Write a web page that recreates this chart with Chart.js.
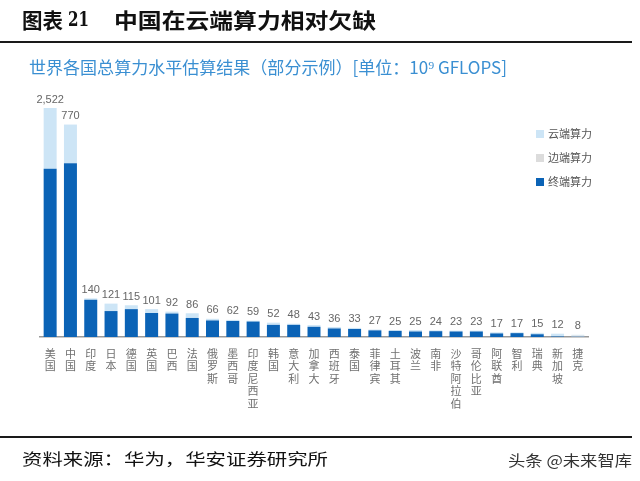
<!DOCTYPE html>
<html>
<head>
<meta charset="utf-8">
<script src="https://cdn.jsdelivr.net/npm/chart.js@4.4.0/dist/chart.umd.min.js"></script>
<style>
  html, body { margin: 0; padding: 0; background: #fff; }
  #wrap { position: relative; width: 640px; height: 481px; }
</style>
</head>
<body>
<div id="wrap"><canvas id="chart" width="640" height="481"></canvas></div>
<script>
// 世界各国总算力水平估算 (10^9 GFLOPS)
const countries = ['美国', '中国', '印度', '日本', '德国', '英国', '巴西', '法国', '俄罗斯', '墨西哥',
  '印度尼西亚', '韩国', '意大利', '加拿大', '西班牙', '泰国', '菲律宾', '土耳其', '波兰', '南非',
  '沙特阿拉伯', '哥伦比亚', '阿联酋', '智利', '瑞典', '新加坡', '捷克'];
const terminalPower = [610, 630, 135, 94, 101, 87, 85, 69, 60, 58, 56, 44, 44, 37, 31, 29, 24, 22, 20, 21, 20, 20, 13, 14, 10, 2, 1];
const edgePower     = [0, 0, 0, 0, 0, 0, 0, 0, 0, 0, 0, 0, 0, 0, 0, 0, 0, 0, 0, 0, 0, 0, 0, 0, 0, 1, 4];
const cloudPower    = [1912, 140, 5, 27, 14, 14, 7, 17, 6, 4, 3, 8, 4, 6, 5, 4, 3, 3, 5, 3, 3, 3, 4, 3, 5, 9, 3];
const seriesNames = ['终端算力', '边端算力', '云端算力'];
const seriesColors = ['#0b63b6', '#dcdcdc', '#cde5f6'];
const yMax = 830; // broken axis: the US bar runs off the top

const totals = countries.map((c, i) => terminalPower[i] + edgePower[i] + cloudPower[i]);

function fitText(ctx, text, x, y, w) {
  const m = ctx.measureText(text).width;
  ctx.save();
  ctx.translate(x, y);
  ctx.scale(w / m, 1);
  ctx.fillText(text, 0, 0);
  ctx.restore();
}

const framePlugin = {
  id: 'frame',
  beforeDraw(chart) {
    const ctx = chart.ctx;
    ctx.save();
    ctx.fillStyle = '#fff';
    ctx.fillRect(0, 0, chart.width, chart.height);
    // title
    ctx.fillStyle = '#111';
    ctx.textBaseline = 'middle';
    ctx.font = 'bold 21px "Noto Sans CJK SC"';
    fitText(ctx, '图表', 22, 20, 41);
    ctx.font = 'bold 21px "DejaVu Serif"';
    fitText(ctx, '21', 68, 21, 21);
    ctx.font = 'bold 21px "Noto Sans CJK SC"';
    fitText(ctx, '中国在云端算力相对欠缺', 114, 20, 262);
    ctx.fillStyle = '#1a1a1a';
    ctx.fillRect(0, 41, 632, 2);
    // subtitle
    ctx.fillStyle = '#3a8fd2';
    ctx.font = '17px "Noto Sans CJK SC"';
    fitText(ctx, '世界各国总算力水平估算结果（部分示例）[单位：10⁹ GFLOPS]', 29, 68, 478);
    // footer
    ctx.fillStyle = '#1a1a1a';
    ctx.fillRect(0, 436, 632, 2);
    ctx.fillStyle = '#111';
    ctx.font = '16px "Noto Sans CJK SC"';
    fitText(ctx, '资料来源：华为，华安证券研究所', 22, 459, 306);
    ctx.fillStyle = '#333';
    ctx.font = '15px "Noto Sans CJK SC"';
    fitText(ctx, '头条 @未来智库', 508, 460, 124);
    ctx.restore();
  },
  afterDatasetsDraw(chart) {
    const ctx = chart.ctx;
    const area = chart.chartArea;
    const topMeta = chart.getDatasetMeta(2);
    ctx.save();
    ctx.fillStyle = '#666';
    ctx.font = '11px "Liberation Sans Narrow", "Liberation Sans"';
    ctx.textAlign = 'center';
    ctx.textBaseline = 'bottom';
    topMeta.data.forEach((bar, i) => {
      const y = Math.max(bar.y, area.top);
      ctx.fillText(totals[i].toLocaleString('en-US'), bar.x, y - 3);
    });
    // legend, top to bottom: 云端, 边端, 终端
    ctx.textAlign = 'left';
    ctx.textBaseline = 'middle';
    ctx.font = '11px "Noto Sans CJK SC"';
    [2, 1, 0].forEach((d, k) => {
      const y = 134 + k * 24;
      ctx.fillStyle = seriesColors[d];
      ctx.fillRect(536, y - 4, 8, 8);
      ctx.fillStyle = '#555';
      ctx.fillText(seriesNames[d], 548, y);
    });
    ctx.restore();
  }
};

new Chart(document.getElementById('chart'), {
  type: 'bar',
  data: {
    labels: countries.map(c => c.split('')),
    datasets: [terminalPower, edgePower, cloudPower].map((vals, d) => ({
      label: seriesNames[d],
      data: vals,
      backgroundColor: seriesColors[d],
      borderWidth: 0,
      categoryPercentage: 0.8,
      barPercentage: 0.8,
      clip: 0
    }))
  },
  options: {
    responsive: false,
    animation: false,
    layout: { padding: { top: 108, left: 40, right: 52, bottom: 54 } },
    plugins: {
      legend: { display: false },
      tooltip: { enabled: false },
      title: { display: false }
    },
    scales: {
      x: {
        stacked: true,
        grid: { display: false },
        border: { display: true, color: '#999', width: 1.5 },
        ticks: {
          color: '#707070',
          font: { size: 11, family: '"Noto Sans CJK SC"', lineHeight: 1.15 },
          maxRotation: 0,
          autoSkip: false,
          padding: 2
        },
        afterFit(scale) { scale.height = 90; }
      },
      y: {
        stacked: true,
        display: false,
        min: 0,
        max: yMax
      }
    }
  },
  plugins: [framePlugin]
});
</script>
</body>
</html>
